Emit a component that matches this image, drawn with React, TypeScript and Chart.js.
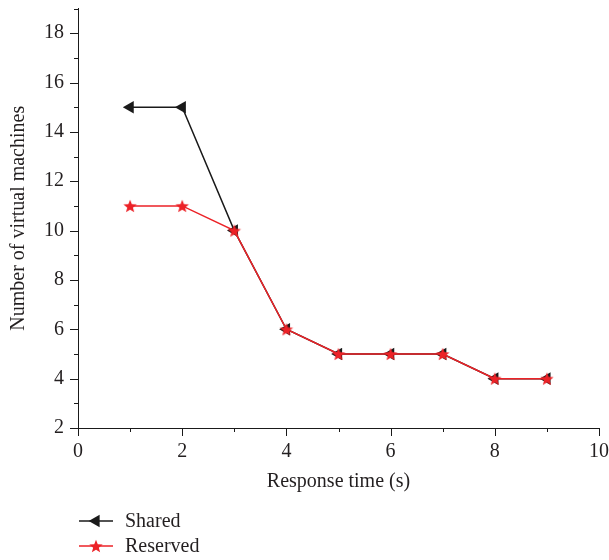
import React, { useEffect, useRef } from 'react';
import { Chart, registerables } from 'chart.js';

Chart.register(...registerables);

const xValues = [1, 2, 3, 4, 5, 6, 7, 8, 9];
const sharedValues = [15, 15, 10, 6, 5, 5, 5, 4, 4];
const reservedValues = [11, 11, 10, 6, 5, 5, 5, 4, 4];
const xTickLabels = ['0', '2', '4', '6', '8', '10'];
const yTickLabels = ['2', '4', '6', '8', '10', '12', '14', '16', '18'];
const seriesNames = ['Shared', 'Reserved'];

const FONT = '"Liberation Serif", "Times New Roman", serif';
const TEXT = '#231f20';
const BLACK = '#1a1a1a';
const RED = '#ec2227';

function makeStar(outer: number, inner: number, color: string): HTMLCanvasElement {
  const size = Math.ceil(outer * 2 + 2);
  const c = document.createElement('canvas');
  c.width = size;
  c.height = size;
  const ctx = c.getContext('2d')!;
  const cx = size / 2;
  const cy = size / 2 + 0.7;
  ctx.beginPath();
  for (let i = 0; i < 10; i++) {
    const r = i % 2 === 0 ? outer : inner;
    const a = -Math.PI / 2 + (i * Math.PI) / 5;
    const px = cx + Math.cos(a) * r;
    const py = cy + Math.sin(a) * r;
    if (i === 0) ctx.moveTo(px, py);
    else ctx.lineTo(px, py);
  }
  ctx.closePath();
  ctx.fillStyle = color;
  ctx.fill();
  return c;
}

const tickMarks = {
  id: 'tickMarks',
  afterDraw(chart: any) {
    const ctx = chart.ctx;
    ctx.save();
    ctx.strokeStyle = BLACK;
    ctx.lineWidth = 1;
    const xs = chart.scales.x;
    const ys = chart.scales.y;
    xs.ticks.forEach((t: any) => {
      const px = Math.round(xs.getPixelForValue(t.value)) + 0.5;
      const major = xTickLabels.includes(String(t.value));
      const len = major ? 8 : 4;
      ctx.beginPath();
      ctx.moveTo(px, xs.top);
      ctx.lineTo(px, xs.top + len);
      ctx.stroke();
    });
    ys.ticks.forEach((t: any) => {
      const py = Math.round(ys.getPixelForValue(t.value)) + 0.5;
      const major = yTickLabels.includes(String(t.value));
      const len = major ? 8 : 4;
      ctx.beginPath();
      ctx.moveTo(ys.right, py);
      ctx.lineTo(ys.right - len, py);
      ctx.stroke();
    });
    ctx.restore();
  },
};

const customLegend = {
  id: 'customLegend',
  afterDraw(chart: any) {
    const ctx = chart.ctx;
    const area = chart.chartArea;
    const left = area.left;
    ctx.save();
    chart.data.datasets.forEach((ds: any, i: number) => {
      const y = area.bottom + 93 + i * 25;
      ctx.strokeStyle = ds.borderColor;
      ctx.lineWidth = 1.5;
      ctx.beginPath();
      ctx.moveTo(left + 1, y);
      ctx.lineTo(left + 35, y);
      ctx.stroke();
      const mx = left + 18;
      if (ds.pointStyle === 'triangle') {
        const r = 7.3;
        ctx.fillStyle = ds.pointBackgroundColor;
        ctx.beginPath();
        for (let k = 0; k < 3; k++) {
          const a = Math.PI + (k * 2 * Math.PI) / 3;
          const px = mx + Math.cos(a) * r;
          const py = y + Math.sin(a) * r;
          if (k === 0) ctx.moveTo(px, py);
          else ctx.lineTo(px, py);
        }
        ctx.closePath();
        ctx.fill();
      } else if (ds.pointStyle instanceof HTMLCanvasElement) {
        const img = ds.pointStyle;
        ctx.drawImage(img, mx - img.width / 2, y - img.height / 2);
      }
      ctx.fillStyle = TEXT;
      ctx.font = `20px ${FONT}`;
      ctx.textAlign = 'left';
      ctx.textBaseline = 'middle';
      ctx.fillText(ds.label, left + 47, y + 1);
    });
    ctx.restore();
  },
};

export default function App() {
  const ref = useRef<HTMLCanvasElement | null>(null);

  useEffect(() => {
    if (!ref.current) return;
    const star = makeStar(7, 3, RED);
    const font = { family: FONT, size: 20 };
    const chart = new Chart(ref.current, {
      type: 'line',
      data: {
        datasets: [
          {
            label: seriesNames[0],
            data: xValues.map((x, i) => ({ x, y: sharedValues[i] })),
            borderColor: BLACK,
            backgroundColor: BLACK,
            pointBackgroundColor: BLACK,
            pointBorderColor: BLACK,
            borderWidth: 1.5,
            pointStyle: 'triangle',
            pointRotation: -90,
            pointRadius: 7.3,
            pointBorderWidth: 0,
            tension: 0,
            order: 1,
          },
          {
            label: seriesNames[1],
            data: xValues.map((x, i) => ({ x, y: reservedValues[i] })),
            borderColor: RED,
            backgroundColor: RED,
            pointBackgroundColor: RED,
            pointBorderColor: RED,
            borderWidth: 1.5,
            pointStyle: star as any,
            pointRadius: 7,
            tension: 0,
            order: 0,
          },
        ],
      },
      options: {
        responsive: false,
        animation: false,
        events: [],
        layout: { padding: { top: 7, right: 10, left: 0, bottom: 63 } },
        plugins: {
          legend: { display: false },
          tooltip: { enabled: false },
        },
        scales: {
          x: {
            type: 'linear',
            min: 0,
            max: 10,
            ticks: {
              stepSize: 1,
              autoSkip: false,
              maxRotation: 0,
              padding: 4,
              font,
              color: TEXT,
              callback: (v: any) => (xTickLabels.includes(String(v)) ? String(v) : ''),
            },
            grid: { color: 'transparent', drawOnChartArea: false, tickLength: 8 },
            border: { display: true, color: BLACK, width: 1 },
            title: {
              display: true,
              text: 'Response time (s)',
              font,
              color: TEXT,
              padding: { top: 4, bottom: 3 },
            },
            afterFit: (s: any) => {
              s.height = 69;
              s.paddingLeft = 0;
              s.paddingRight = 0;
            },
          },
          y: {
            type: 'linear',
            min: 2,
            max: 19,
            ticks: {
              stepSize: 1,
              autoSkip: false,
              padding: 6,
              font,
              color: TEXT,
              callback: (v: any) => (yTickLabels.includes(String(v)) ? String(v) : ''),
            },
            grid: { color: 'transparent', drawOnChartArea: false, tickLength: 8 },
            border: { display: true, color: BLACK, width: 1 },
            title: {
              display: true,
              text: 'Number of virtual machines',
              font,
              color: TEXT,
              padding: { top: 7, bottom: 4 },
            },
            afterFit: (s: any) => {
              s.width = 78;
              s.paddingTop = 0;
              s.paddingBottom = 0;
            },
          },
        },
      },
      plugins: [tickMarks, customLegend],
    });
    return () => chart.destroy();
  }, []);

  return (
    <div style={{ position: 'absolute', left: 0, top: 0, width: 609, height: 560, background: '#fff' }}>
      <canvas ref={ref} width={609} height={560} style={{ display: 'block' }} />
    </div>
  );
}
